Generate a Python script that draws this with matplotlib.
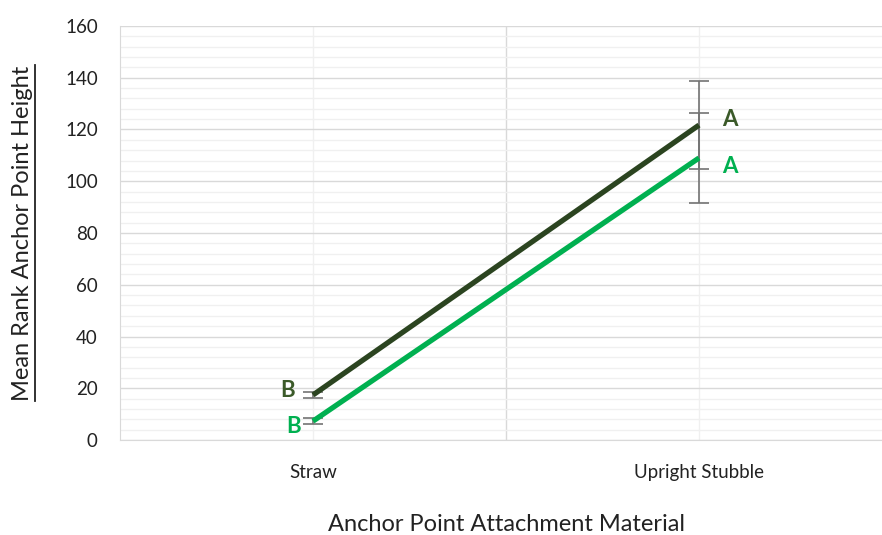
import numpy as np
import matplotlib.pyplot as plt
from matplotlib.lines import Line2D
from matplotlib.ticker import MultipleLocator

plt.rcParams['font.family'] = ['Lato', 'DejaVu Sans']

# data
categories = ["Straw", "Upright Stubble"]
series_dark = [17.4, 121.7]
err_dark = [1.0, 17.0]
series_light = [7.3, 109.0]
err_light = [1.2, 17.5]
letters_dark = ["B", "A"]
letters_light = ["B", "A"]

dark_col = "#2b4420"
dark_txt = "#3b5a29"
light_col = "#00b050"

fig = plt.figure(figsize=(8.82, 5.35), dpi=100)
ax = fig.add_axes([120 / 882, 1 - 440 / 535, 772 / 882, 414 / 535])

x = np.arange(len(categories))

ax.set_xlim(-0.5, 1.5)
ax.set_ylim(0, 160)
ax.yaxis.set_major_locator(MultipleLocator(20))
ax.yaxis.set_minor_locator(MultipleLocator(4))
ax.set_xticks(x)
ax.set_xticklabels(categories, fontsize=13.5, color="#222222")
ax.tick_params(axis='y', labelsize=13.5, colors="#222222", length=0, pad=16)
ax.tick_params(axis='x', length=0, pad=17)
ax.tick_params(which='minor', length=0)

ax.grid(which='major', axis='y', color="#d9d9d9", lw=1.0)
ax.grid(which='minor', axis='y', color="#f0f0f0", lw=1.0)
for xv in x:
    ax.axvline(xv, color="#f0f0f0", lw=1.0, zorder=0)
ax.axvline(0.5, color="#d9d9d9", lw=1.0, zorder=0)
ax.set_axisbelow(True)

for s in ['top', 'right']:
    ax.spines[s].set_visible(False)
ax.spines['left'].set_color("#d9d9d9")
ax.spines['bottom'].set_color("#d9d9d9")

ax.errorbar(x, series_dark, yerr=err_dark, fmt='none', ecolor="#737373",
            elinewidth=1.2, capsize=7, capthick=1.2, zorder=2)
ax.errorbar(x, series_light, yerr=err_light, fmt='none', ecolor="#737373",
            elinewidth=1.2, capsize=7, capthick=1.2, zorder=2)
ax.plot(x, series_dark, color=dark_col, lw=3.8, solid_capstyle='butt', zorder=3)
ax.plot(x, series_light, color=light_col, lw=3.8, solid_capstyle='butt', zorder=3)

# significance letters
ax.annotate(letters_dark[0], (x[0], series_dark[0]), xytext=(-18, 3),
            textcoords='offset points', ha='center', va='center',
            fontsize=16, fontweight='bold', color=dark_txt)
ax.annotate(letters_light[0], (x[0], series_light[0]), xytext=(-14, -4),
            textcoords='offset points', ha='center', va='center',
            fontsize=16, fontweight='bold', color=light_col)
ax.annotate(letters_dark[1], (x[1], series_dark[1]), xytext=(22, 4),
            textcoords='offset points', ha='center', va='center',
            fontsize=16, fontweight='bold', color=dark_txt)
ax.annotate(letters_light[1], (x[1], series_light[1]), xytext=(22, -6),
            textcoords='offset points', ha='center', va='center',
            fontsize=16, fontweight='bold', color=light_col)

ax.set_xlabel("Anchor Point Attachment Material", fontsize=17, color="#222222")
ax.xaxis.set_label_coords(0.5, -0.179)
ylab = ax.set_ylabel("Mean Rank Anchor Point Height", fontsize=17, color="#222222")
ax.yaxis.set_label_coords(-0.113, 0.5)

# underline the y label
fig.canvas.draw()
bb = ylab.get_window_extent(renderer=fig.canvas.get_renderer())
bb = bb.transformed(fig.transFigure.inverted())
fig.add_artist(Line2D([bb.x1 + 0.002, bb.x1 + 0.002], [bb.y0, bb.y1],
                      transform=fig.transFigure, color="#222222", lw=1.3))

fig.savefig("out.png", dpi=100)
